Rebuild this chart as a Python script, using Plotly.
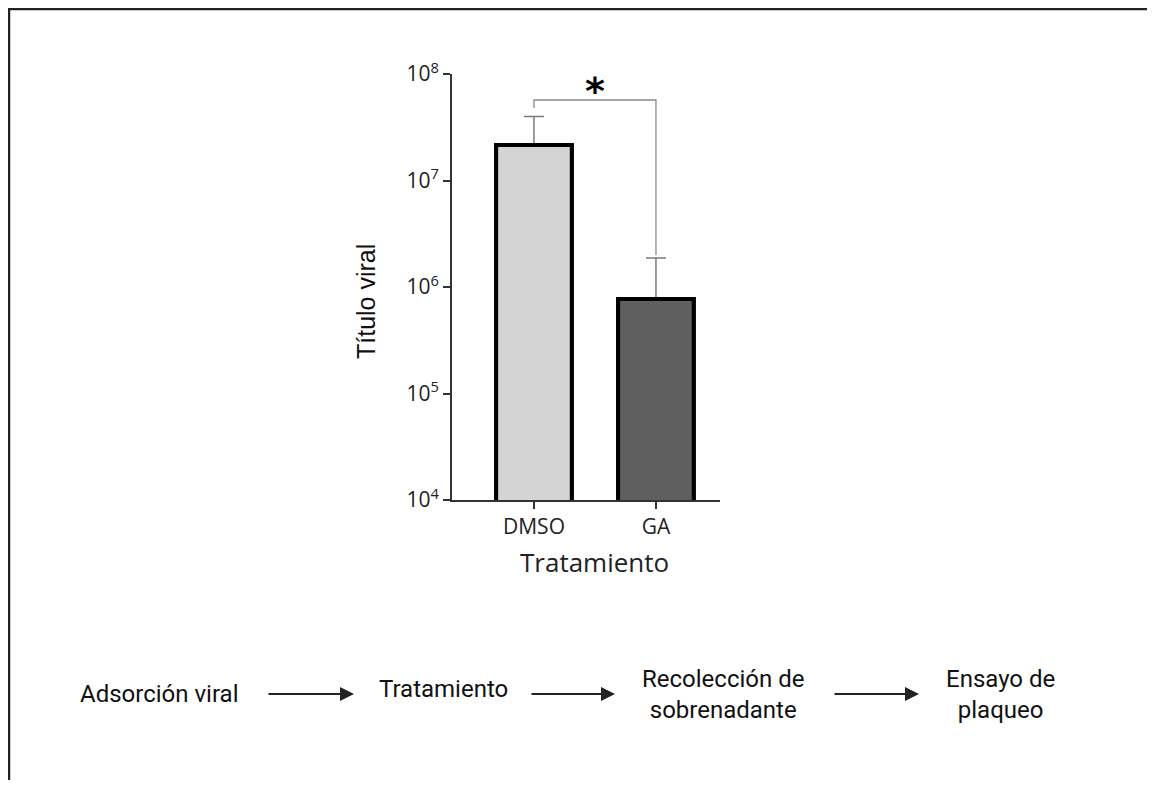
import plotly.graph_objects as go

# ---- data ----
categories = ["DMSO", "GA"]
titer_mean = [2.15e7, 7.7e5]
titer_err_up = [1.85e7, 1.1e6]
bar_colors = ["#d4d4d4", "#5f5f5f"]
y_tickvals = [1e4, 1e5, 1e6, 1e7, 1e8]
y_ticktext = ["10<sup>4</sup>", "10<sup>5</sup>", "10<sup>6</sup>", "10<sup>7</sup>", "10<sup>8</sup>"]
bracket_y = [4.8e7, 5.7e7, 5.7e7, 2.0e6]
signif_label = "*"
flow_steps = ["Adsorción viral", "Tratamiento", "Recolección de<br>sobrenadante", "Ensayo de<br>plaqueo"]

# page offset of the figure inside the html page (body margin)
OX, OY = 8, 8
W, H = 1139, 772
def px(X):
    return (X - OX) / W
def py(Y):
    return 1 - (Y - OY) / H

fig = go.Figure()
fig.add_trace(go.Bar(
    x=categories, y=titer_mean, width=0.62,
    marker=dict(color=bar_colors, line=dict(color="black", width=4)),
    error_y=dict(type="data", symmetric=False, array=titer_err_up,
                 arrayminus=[0, 0], color="#7a7a7a", thickness=1.5, width=10),
    showlegend=False, hoverinfo="x+y",
))
fig.add_trace(go.Bar(
    x=categories, y=titer_mean, width=0.62,
    marker=dict(color=bar_colors, line=dict(color="black", width=4)),
    showlegend=False, hoverinfo="skip",
))
fig.add_trace(go.Scatter(
    x=[categories[0], categories[0], categories[1], categories[1]], y=bracket_y,
    mode="lines", line=dict(color="#8a8a8a", width=1.3), showlegend=False, hoverinfo="skip",
))

axis_font = dict(family="Open Sans", size=21, color="#222")
fig.update_layout(
    width=W, height=H,
    margin=dict(l=0, r=0, t=0, b=0, pad=0, autoexpand=False),
    paper_bgcolor="white", plot_bgcolor="white",
    barmode="overlay", showlegend=False,
    xaxis=dict(domain=[px(452), px(720)], type="category", range=[-0.672, 1.525],
               showline=True, linecolor="#333", linewidth=2,
               ticks="outside", ticklen=7, tickwidth=2, tickcolor="#333",
               tickfont=axis_font, showgrid=False, zeroline=False, fixedrange=True,
               automargin=False),
    yaxis=dict(domain=[py(500), py(74)], type="log", range=[4, 8],
               tickvals=y_tickvals, ticktext=y_ticktext,
               showline=True, linecolor="#333", linewidth=2,
               ticks="outside", ticklen=7, tickwidth=2, tickcolor="#333",
               tickfont=axis_font, showgrid=False, zeroline=False, fixedrange=True,
               automargin=False),
    font=dict(family="Open Sans"),
)

annotations = [
    dict(x=0.5, y=7.9, xref="x", yref="y", text="<b>" + signif_label + "</b>", showarrow=False,
         font=dict(family="DejaVu Sans", size=38, color="black"), xanchor="center",
         yanchor="middle", yshift=-6),
    dict(x=px(366), y=py(302), xref="paper", yref="paper", text="Título viral", textangle=-90,
         showarrow=False, font=dict(family="Liberation Sans", size=25, color="#111"),
         xanchor="center", yanchor="middle"),
    dict(x=0.5, y=py(562), xref="x", yref="paper", text="Tratamiento", showarrow=False,
         font=dict(family="Open Sans", size=26, color="#222"), xanchor="center", yanchor="middle"),
]

flow_font = dict(family="Roboto", size=24, color="#111")
step_x = [159, 443, 723, 1001]
step_y = [694, 689, 694, 694]
for sx, sy, label in zip(step_x, step_y, flow_steps):
    annotations.append(dict(x=px(sx), y=py(sy), xref="paper", yref="paper", text=label,
                            showarrow=False, font=flow_font, align="center",
                            xanchor="center", yanchor="middle"))
arrow_spans = [(267, 354), (530, 615), (833, 919)]
for x0, x1 in arrow_spans:
    annotations.append(dict(x=px(x1), y=py(694), xref="paper", yref="paper", text="",
                            showarrow=True, ax=-(x1 - x0), ay=0, arrowhead=2, arrowsize=1.4,
                            arrowwidth=2, arrowcolor="#222", standoff=0, startstandoff=0))
fig.update_layout(annotations=annotations)

# frame (left and top edges)
fig.add_shape(type="path", xref="paper", yref="paper",
              path=f"M {px(9)} {py(800)} L {px(9)} {py(9)} L {px(1160)} {py(9)}",
              line=dict(color="#222", width=2.5))

fig.write_html("out.html")
